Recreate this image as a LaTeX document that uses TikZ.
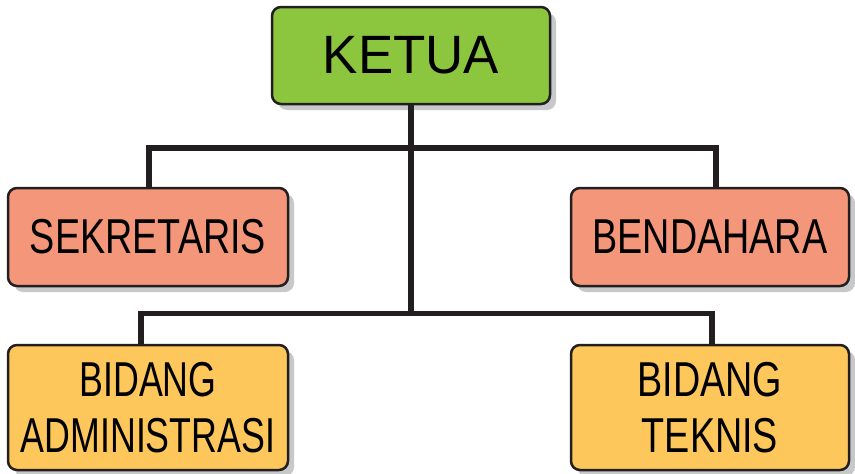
\documentclass[tikz,border=0pt]{standalone}
\usepackage{fontspec}
\setmainfont{Liberation Sans}
\newfontfamily\judulfont[FakeStretch=0.98]{Liberation Sans}
\newfontfamily\sempitfont[FakeStretch=0.77]{Liberation Sans}
\newfontfamily\rapatfont[FakeStretch=0.73]{Liberation Sans}
\usetikzlibrary{shadows}

\definecolor{hijau}{HTML}{8CC63F}
\definecolor{salmon}{HTML}{F4967A}
\definecolor{kuning}{HTML}{FDC75B}
\definecolor{bayang}{HTML}{C7C8CA}
\definecolor{tinta}{HTML}{231F20}

\tikzset{
    kotak/.style={draw=tinta, line width=2.5pt, rounded corners=9pt, align=center,
        inner sep=0pt, text=black,
        drop shadow={shadow xshift=6pt, shadow yshift=-6pt, fill=bayang, opacity=1}},
    garis/.style={draw=tinta, line width=5.5pt}
}

\begin{document}
\begin{tikzpicture}[x=1pt, y=-1pt]

        \useasboundingbox (0,0) rectangle (855,474);

        % --- Kotak ketua di puncak ---
        \node[kotak, fill=hijau, minimum width=278pt, minimum height=97pt,
              font=\judulfont\fontsize{54}{60}\selectfont] (ketua) at (411,55.5) {KETUA};

        % --- Baris kedua: sekretaris dan bendahara ---
        \node[kotak, fill=salmon, minimum width=280pt, minimum height=98pt,
              font=\sempitfont\fontsize{49}{56}\selectfont] (sekretaris) at (148,237) {SEKRETARIS};
        \node[kotak, fill=salmon, minimum width=278pt, minimum height=98pt,
              font=\sempitfont\fontsize{49}{56}\selectfont] (bendahara) at (710,237) {BENDAHARA};

        % --- Baris ketiga: bidang ---
        \node[kotak, fill=kuning, minimum width=280pt, minimum height=125pt,
              font=\rapatfont\fontsize{49}{56}\selectfont] (administrasi) at (148,407.5) {BIDANG\\ADMINISTRASI};
        \node[kotak, fill=kuning, minimum width=278pt, minimum height=125pt,
              font=\sempitfont\fontsize{49}{56}\selectfont] (teknis) at (710,407.5) {BIDANG\\TEKNIS};

        % --- Garis penghubung ---
        % tinggi dua garis mendatar
        \coordinate (atas) at (0,148);
        \coordinate (bawah) at (0,313.5);
        % kaki garis ke tiap kotak (sedikit bergeser dari tengah)
        \coordinate (kakiS) at ([xshift=1pt]sekretaris.north);
        \coordinate (kakiB) at ([xshift=6pt]bendahara.north);
        \coordinate (kakiA) at ([xshift=-7pt]administrasi.north);
        \coordinate (kakiT) at ([xshift=2pt]teknis.north);

        % batang utama dari ketua
        \draw[garis] (ketua.south) -- (ketua.south |- bawah);
        % cabang atas
        \draw[garis] (kakiS) |- (kakiB |- atas) -- (kakiB);
        % cabang bawah
        \draw[garis] (kakiA) |- (kakiT |- bawah) -- (kakiT);

    \end{tikzpicture}
\end{document}
